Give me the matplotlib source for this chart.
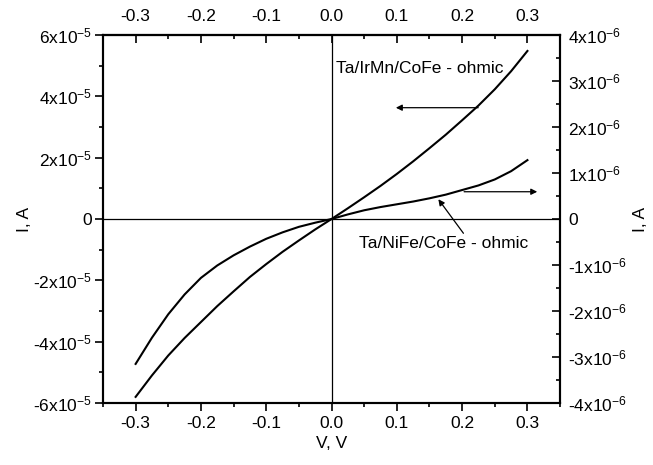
import math
import matplotlib
matplotlib.use('Agg')
import matplotlib.pyplot as plt
from matplotlib.ticker import MultipleLocator, FuncFormatter

plt.rcParams['font.family'] = ['Liberation Sans', 'DejaVu Sans']
plt.rcParams['mathtext.default'] = 'regular'

# bias voltage, V
volts = [-0.300, -0.275, -0.250, -0.225, -0.200, -0.175, -0.150, -0.125, -0.100,
         -0.075, -0.050, -0.025, 0.0, 0.025, 0.050, 0.075, 0.100, 0.125, 0.150,
         0.175, 0.200, 0.225, 0.250, 0.275, 0.300]

# Ta/IrMn/CoFe - ohmic, current in A (left axis)
i_irmn = [-5.80e-5, -5.10e-5, -4.45e-5, -3.88e-5, -3.36e-5, -2.84e-5, -2.36e-5,
          -1.89e-5, -1.47e-5, -1.07e-5, -0.70e-5, -0.34e-5, 0.0, 0.35e-5,
          0.71e-5, 1.08e-5, 1.47e-5, 1.88e-5, 2.31e-5, 2.75e-5, 3.22e-5,
          3.70e-5, 4.23e-5, 4.82e-5, 5.48e-5]

# Ta/NiFe/CoFe - ohmic, current in A (right axis)
i_nife = [-3.15e-6, -2.58e-6, -2.07e-6, -1.64e-6, -1.28e-6, -1.01e-6, -0.79e-6,
          -0.60e-6, -0.43e-6, -0.29e-6, -0.17e-6, -0.08e-6, 0.0, 0.10e-6,
          0.19e-6, 0.26e-6, 0.32e-6, 0.38e-6, 0.45e-6, 0.53e-6, 0.63e-6,
          0.73e-6, 0.86e-6, 1.04e-6, 1.28e-6]

FS = 12.5


def sci_fmt(v, pos):
    if abs(v) < 1e-12:
        return '0'
    exp = int(math.floor(math.log10(abs(v)) + 1e-9))
    m = round(v / 10 ** exp)
    return '%dx10$^{%d}$' % (m, exp)


def v_fmt(v, pos):
    if abs(v) < 1e-9:
        return '0.0'
    return '%.1f' % v


fig = plt.figure(figsize=(6.53, 4.65), dpi=100)
ax = fig.add_axes([0.1577, 0.1333, 0.70, 0.7914])
ax2 = ax.twinx()

ax.plot(volts, i_irmn, color='black', lw=1.5)
ax2.plot(volts, i_nife, color='black', lw=1.5)

ax.axhline(0, color='black', lw=0.9)
ax.axvline(0, color='black', lw=0.9)

ax.set_xlim(-0.35, 0.35)
ax.set_ylim(-6e-5, 6e-5)
ax2.set_ylim(-4e-6, 4e-6)

ax.xaxis.set_major_locator(MultipleLocator(0.1))
ax.xaxis.set_minor_locator(MultipleLocator(0.05))
ax.xaxis.set_major_formatter(FuncFormatter(v_fmt))
ax.yaxis.set_major_locator(MultipleLocator(2e-5))
ax.yaxis.set_minor_locator(MultipleLocator(1e-5))
ax.yaxis.set_major_formatter(FuncFormatter(sci_fmt))
ax2.yaxis.set_major_locator(MultipleLocator(1e-6))
ax2.yaxis.set_minor_locator(MultipleLocator(0.5e-6))
ax2.yaxis.set_major_formatter(FuncFormatter(sci_fmt))

ax.tick_params(which='both', direction='out', labelsize=FS, width=1.2)
ax.tick_params(which='major', length=6)
ax.tick_params(which='minor', length=3)
ax.tick_params(axis='y', pad=2)
ax.tick_params(axis='x', pad=3)
ax2.tick_params(which='both', direction='in', labelsize=FS, width=1.2, pad=6)
ax2.tick_params(which='major', length=6)
ax2.tick_params(which='minor', length=3)

top = ax.secondary_xaxis('top')
top.xaxis.set_major_locator(MultipleLocator(0.1))
top.xaxis.set_minor_locator(MultipleLocator(0.05))
top.xaxis.set_major_formatter(FuncFormatter(v_fmt))
top.tick_params(which='both', direction='in', labelsize=FS, width=1.2, pad=8)
top.tick_params(which='major', length=6)
top.tick_params(which='minor', length=3)

for a in (ax, ax2):
    for s in a.spines.values():
        s.set_linewidth(1.5)
top.spines['top'].set_linewidth(1.5)

ax.set_xlabel('V, V', fontsize=FS, labelpad=4)
ax.set_ylabel('I, A', fontsize=FS, labelpad=1)
ax2.set_ylabel('I, A', fontsize=FS, labelpad=4, rotation=90)

ax.text(0.135, 4.92e-5, 'Ta/IrMn/CoFe - ohmic', fontsize=FS, ha='center', va='center')
ax.annotate('', xy=(0.0985, 3.63e-5), xytext=(0.2246, 3.63e-5),
            arrowprops=dict(arrowstyle='-|>', color='black', lw=0.9,
                            mutation_scale=9, shrinkA=0, shrinkB=0))
ax2.annotate('', xy=(0.315, 0.593e-6), xytext=(0.203, 0.593e-6),
             arrowprops=dict(arrowstyle='-|>', color='black', lw=0.9,
                             mutation_scale=9, shrinkA=0, shrinkB=0))
ax2.annotate('', xy=(0.1636, 0.43e-6), xytext=(0.202, -0.31e-6),
             arrowprops=dict(arrowstyle='-|>', color='black', lw=0.9,
                             mutation_scale=9, shrinkA=0, shrinkB=0))
ax2.text(0.172, -0.53e-6, 'Ta/NiFe/CoFe - ohmic', fontsize=FS, ha='center', va='center')

fig.savefig('out.png', dpi=100)
